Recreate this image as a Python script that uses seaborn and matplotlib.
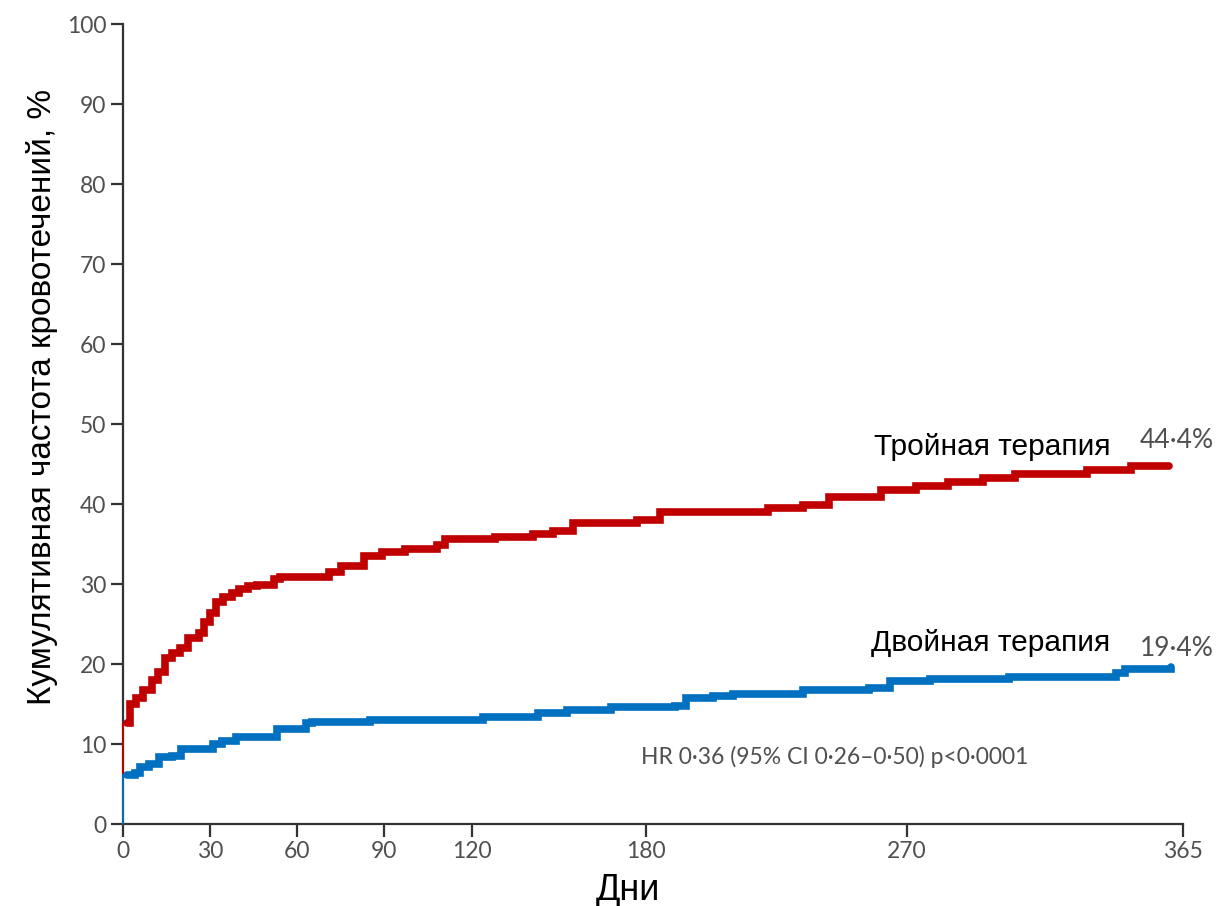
import matplotlib
matplotlib.use("Agg")
import matplotlib.pyplot as plt
import seaborn as sns
import pandas as pd

# ---- data ----
triple_days = [0, 1.5, 2.4, 4.5, 7, 10, 12, 14.5, 17, 19.5, 22.5, 26, 27.7, 30, 32, 34.5,
               37.5, 40, 43, 46, 52, 54, 71, 75, 83, 89, 97, 108, 111, 128, 141, 148,
               155, 177, 185, 222, 234, 243, 261, 273, 284, 296, 307, 332, 347, 360]
triple_pct = [0, 12.6, 15.0, 15.8, 16.8, 18.0, 19.0, 20.8, 21.4, 22.0, 23.2, 23.9, 25.2, 26.4,
              27.7, 28.4, 28.9, 29.4, 29.7, 29.9, 30.6, 30.9, 31.5, 32.3, 33.5, 34.0, 34.4,
              34.9, 35.6, 35.9, 36.3, 36.6, 37.6, 38.0, 39.0, 39.5, 39.9, 40.9, 41.8, 42.3,
              42.7, 43.3, 43.7, 44.3, 44.8, 44.8]

dual_days = [0, 1.5, 4, 6, 9, 12.5, 17, 20, 31, 34, 39, 53, 63, 65, 85, 124, 143, 153, 168,
             190, 194, 203, 210, 234, 257, 264, 278, 305, 342, 345, 361]
dual_pct = [0, 6.1, 6.4, 7.1, 7.5, 8.4, 8.5, 9.4, 10.0, 10.4, 10.9, 11.9, 12.6, 12.75, 13.0,
            13.4, 13.9, 14.25, 14.6, 14.8, 15.75, 16.0, 16.3, 16.75, 17.0, 17.9, 18.1, 18.4,
            18.9, 19.4, 19.6]

x_ticks = [0, 30, 60, 90, 120, 180, 270, 365]
y_ticks = list(range(0, 101, 10))

series_names = ["Тройная терапия", "Двойная терапия"]
final_labels = ["44·4%", "19·4%"]
hr_text = "HR 0·36 (95% CI 0·26–0·50) p<0·0001"
x_label = "Дни"
y_label = "Кумулятивная частота кровотечений, %"

RED = "#C00000"
BLUE = "#0070C0"
GRAY_TXT = "#505050"
NUM_FONT = ["Lato", "DejaVu Sans"]

# ---- figure ----
sns.set_style("ticks")
plt.rcParams["font.family"] = ["Liberation Sans", "DejaVu Sans"]

fig = plt.figure(figsize=(12.16, 9.06), dpi=100)
ax = fig.add_axes([0.1012, 0.0905, 0.8717, 0.883])

for days, pct, col in [(triple_days, triple_pct, RED), (dual_days, dual_pct, BLUE)]:
    # thin rise at day 0 (drawn over the axis spine)
    sns.lineplot(x=days[:2], y=pct[:2], ax=ax, color=col, lw=1.4,
                 drawstyle="steps-pre", estimator=None, sort=False,
                 zorder=3, clip_on=False)
    df = pd.DataFrame({"d": days[1:], "p": pct[1:]})
    sns.lineplot(data=df, x="d", y="p", ax=ax, color=col, lw=5.5,
                 drawstyle="steps-post", estimator=None, sort=False,
                 solid_joinstyle="miter", zorder=4)

ax.set_xlim(0, 365)
ax.set_ylim(0, 100)
ax.set_xticks(x_ticks)
ax.set_yticks(y_ticks)
ax.tick_params(axis="both", direction="out", length=9, width=1.6, color="#333333",
               labelcolor=GRAY_TXT, labelsize=16.5, pad=3)
for lab in ax.get_xticklabels() + ax.get_yticklabels():
    lab.set_family(NUM_FONT)
sns.despine(ax=ax)
for s in ["left", "bottom"]:
    ax.spines[s].set_linewidth(1.6)
    ax.spines[s].set_color("#333333")

ax.set_xlabel(x_label, fontsize=26, color="black")
ax.xaxis.set_label_coords(0.476, -0.061)
ax.set_ylabel(y_label, fontsize=24, color="black")
ax.yaxis.set_label_coords(-0.061, 0.534)

# annotations
ax.text(340, triple_pct[-1] + 2.3, series_names[0], ha="right", va="center",
        fontsize=21.5, color="black")
ax.text(350, triple_pct[-1] + 3.2, final_labels[0], ha="left", va="center",
        fontsize=19, color=GRAY_TXT, family=NUM_FONT, clip_on=False)
ax.text(340, dual_pct[-1] + 3.0, series_names[1], ha="right", va="center",
        fontsize=21.5, color="black")
ax.text(350, dual_pct[-1] + 2.4, final_labels[1], ha="left", va="center",
        fontsize=19, color=GRAY_TXT, family=NUM_FONT, clip_on=False)
ax.text(178.4, 8.4, hr_text, ha="left", va="center", fontsize=16.5,
        color=GRAY_TXT, family=NUM_FONT)

fig.savefig("out.png", dpi=100)
